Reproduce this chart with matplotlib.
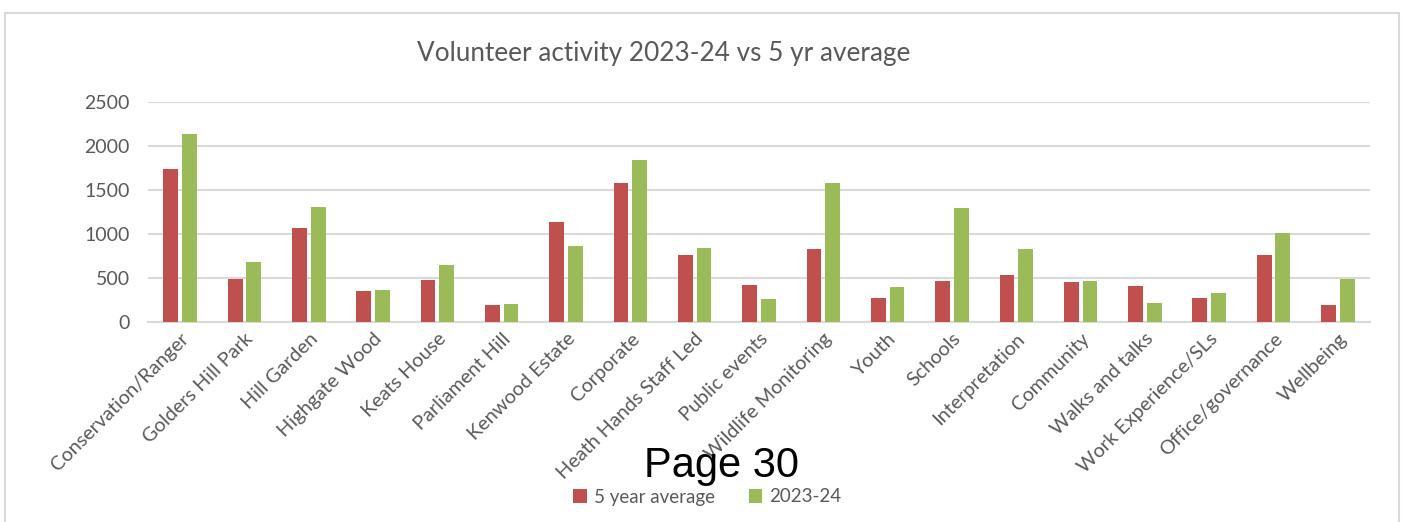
import matplotlib
matplotlib.use("Agg")
import matplotlib.pyplot as plt
import numpy as np
from matplotlib.patches import Rectangle

categories = [
    "Conservation/Ranger", "Golders Hill Park", "Hill Garden", "Highgate Wood",
    "Keats House", "Parliament Hill", "Kenwood Estate", "Corporate",
    "Heath Hands Staff Led", "Public events", "Wildlife Monitoring", "Youth",
    "Schools", "Interpretation", "Community", "Walks and talks",
    "Work Experience/SLs", "Office/governance", "Wellbeing",
]
avg_5yr = [1731, 489, 1061, 345, 473, 189, 1136, 1576, 761, 413, 822, 265,
           462, 530, 447, 409, 265, 761, 186]
year_2324 = [2133, 682, 1303, 360, 644, 205, 864, 1837, 837, 254, 1576, 398,
             1292, 822, 462, 216, 322, 1004, 489]
series_labels = ["5 year average", "2023-24"]
yticks = [0, 500, 1000, 1500, 2000, 2500]

RED = "#C0504D"
GREEN = "#9BBB59"
GRID = "#D9D9D9"
TEXT = "#595959"
FONT = ["Lato", "DejaVu Sans"]

plt.rcParams["font.family"] = FONT

fig = plt.figure(figsize=(14.05, 5.22), dpi=100)
ax = fig.add_axes([148 / 1405, 1 - 321.7 / 522, 1222 / 1405, 220 / 522])

x = np.arange(len(categories))
w = 0.23
ax.bar(x - 0.145, avg_5yr, width=w, color=RED, label=series_labels[0], zorder=3)
ax.bar(x + 0.145, year_2324, width=w, color=GREEN, label=series_labels[1], zorder=3)

ax.set_xlim(-0.5, len(categories) - 0.5)
ax.set_ylim(0, 2500)
ax.set_yticks(yticks)
ax.set_yticklabels([str(v) for v in yticks])
ax.yaxis.grid(True, color=GRID, linewidth=1.5, zorder=0)
ax.set_axisbelow(True)
for s in ["top", "right", "left"]:
    ax.spines[s].set_visible(False)
ax.spines["bottom"].set_color(GRID)
ax.spines["bottom"].set_linewidth(1.5)
ax.tick_params(axis="y", length=0, pad=13, labelsize=14, labelcolor=TEXT)
ax.tick_params(axis="x", length=0, pad=6)
ax.set_xticks(x)
ax.set_xticklabels(categories, rotation=45, ha="right", va="top",
                   rotation_mode="anchor", fontsize=14.3, color=TEXT)

fig.text(664 / 1405, 1 - 53 / 522, "Volunteer activity 2023-24 vs 5 yr average",
         ha="center", va="center", fontsize=18.8, color=TEXT)

# chart border
fig.patches.append(Rectangle((5 / 1405, -0.1), 1394 / 1405, 1.1 - 13 / 522,
                             transform=fig.transFigure, fill=False,
                             edgecolor=GRID, linewidth=1.5))

fig.legend(loc="center", bbox_to_anchor=(0.5 + 5 / 1405, 1 - 497 / 522), ncol=2,
           frameon=False, fontsize=13.5, labelcolor=TEXT, handlelength=0.7,
           handleheight=0.7, handletextpad=0.4, columnspacing=1.8)

fig.text(722 / 1405, 1 - 466 / 522, "Page 30", ha="center", va="center",
         fontsize=30, color="black", family=["Liberation Sans", "DejaVu Sans"])

fig.savefig("out.png", dpi=100)
